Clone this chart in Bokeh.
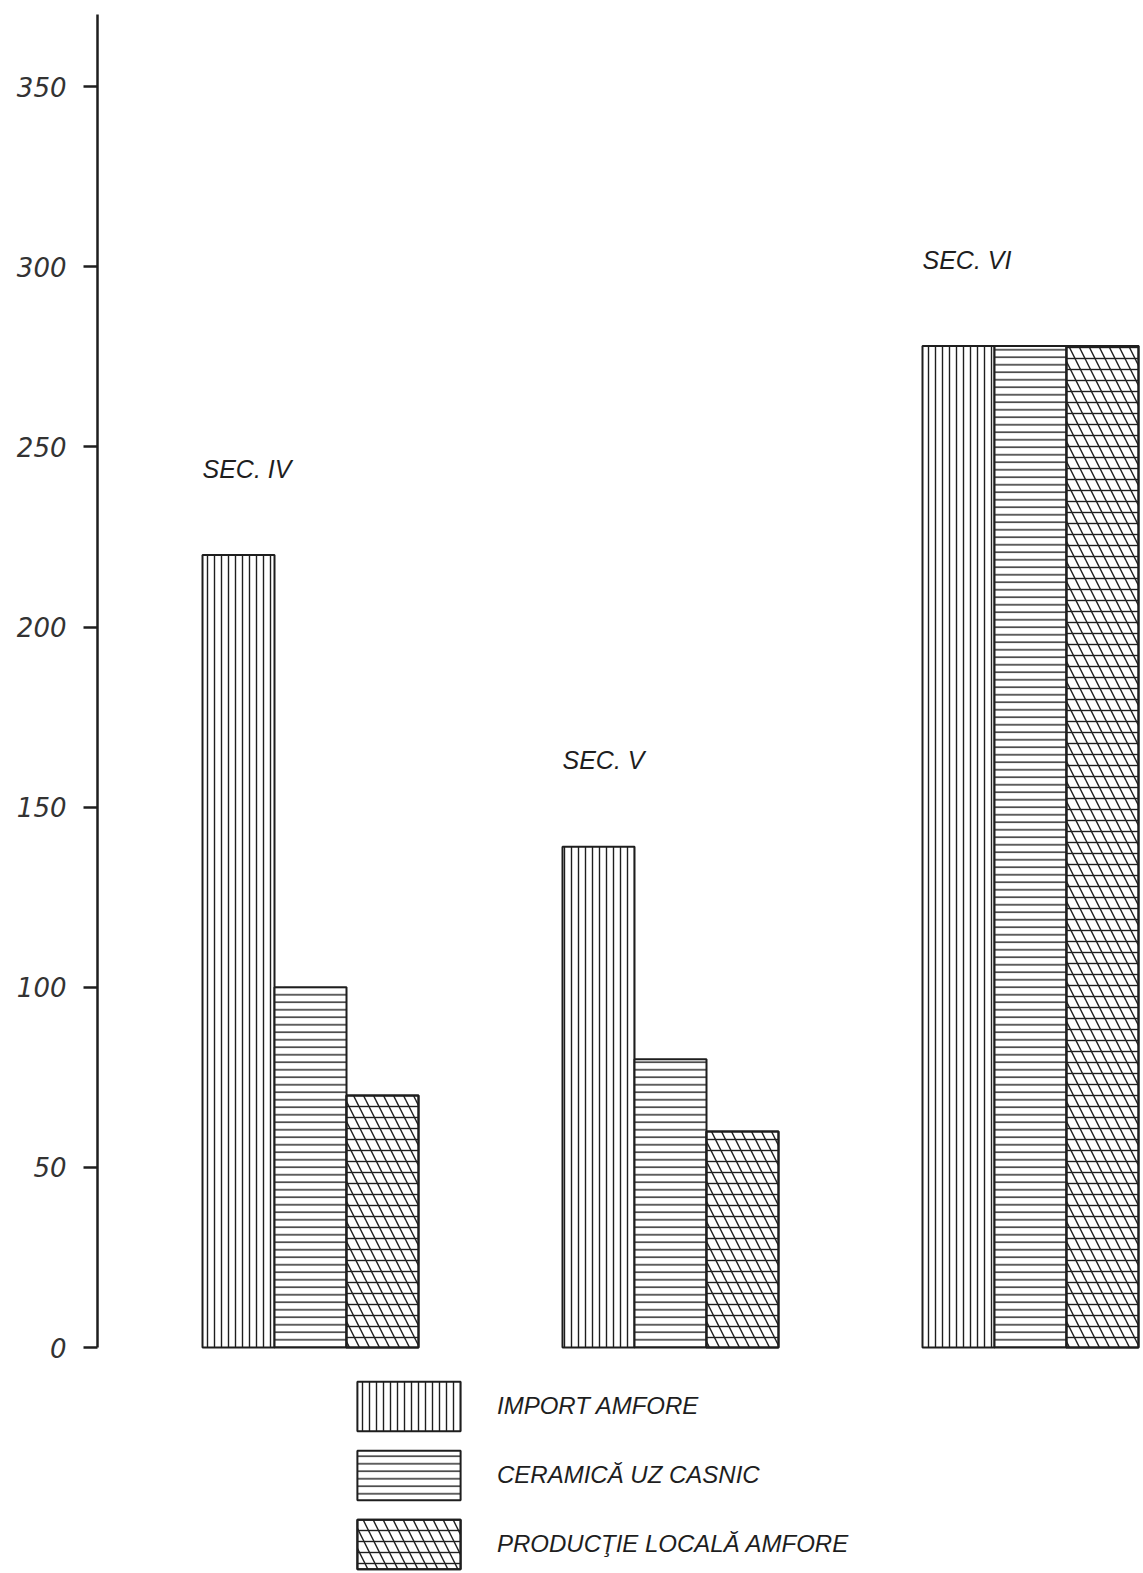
import numpy as np
from bokeh.plotting import figure
from bokeh.models import Range1d, LinearAxis, FixedTicker, Legend, LegendItem, ColumnDataSource
from bokeh.transform import dodge
from bokeh.core.properties import value
from bokeh.embed import file_html
from bokeh.resources import INLINE

# ---- data ----
groups = ["SEC. IV", "SEC. V", "SEC. VI"]
series = ["IMPORT AMFORE", "CERAMICĂ UZ CASNIC", "PRODUCŢIE LOCALĂ AMFORE"]
import_amfore = [220, 139, 278]
ceramica_uz_casnic = [100, 80, 278]
productie_locala_amfore = [70, 60, 278]
y_ticks = [0, 50, 100, 150, 200, 250, 300, 350]

INK = "#1e1e1e"
BAR_W = 0.2

p = figure(width=1143, height=1573, output_backend="svg", toolbar_location=None,
           x_range=Range1d(-0.5917, 2.3139), y_range=Range1d(-62.7, 373.9),
           x_axis_type=None, y_axis_type=None,
           min_border_left=97, min_border_right=0, min_border_top=0, min_border_bottom=0)
p.outline_line_color = None
p.background_fill_color = "white"

yaxis = LinearAxis(ticker=FixedTicker(ticks=y_ticks), bounds=(0, 370))
yaxis.axis_line_width = 2.5
yaxis.axis_line_color = INK
yaxis.major_tick_line_width = 2.5
yaxis.major_tick_line_color = INK
yaxis.major_tick_out = 14
yaxis.major_tick_in = 0
yaxis.minor_tick_out = 0
yaxis.minor_tick_in = 0
yaxis.major_label_text_font = "DejaVu Sans"
yaxis.major_label_text_font_style = "italic"
yaxis.major_label_text_font_size = "26px"
yaxis.major_label_text_color = "#333333"
yaxis.major_label_standoff = 17
p.add_layout(yaxis, "left")

label_y = [max(a, b, c) + 24 for a, b, c in zip(import_amfore, ceramica_uz_casnic, productie_locala_amfore)]
src = ColumnDataSource(dict(x=np.arange(len(groups)), group=groups, imp=import_amfore,
                            cer=ceramica_uz_casnic, prod=productie_locala_amfore, label_y=label_y))

common = dict(width=BAR_W, bottom=0, source=src, line_color=INK, line_width=2,
              hatch_color=INK, hatch_weight=1.4)

r_imp = p.vbar(x=dodge("x", -BAR_W, range=p.x_range), top="imp", fill_color="white",
               hatch_pattern="vertical_line", hatch_scale=7, **common)
r_cer = p.vbar(x=dodge("x", 0, range=p.x_range), top="cer", fill_color="white",
               hatch_pattern="horizontal_line", hatch_scale=7.5, **common)
r_prod_h = p.vbar(x=dodge("x", BAR_W, range=p.x_range), top="prod", fill_color="white",
                  hatch_pattern="horizontal_line", hatch_scale=11, **common)
r_prod_d = p.vbar(x=dodge("x", BAR_W, range=p.x_range), top="prod", fill_alpha=0,
                  hatch_pattern="left_diagonal_line", hatch_scale=20, **common)

p.text(x=dodge("x", -0.3, range=p.x_range), y="label_y", text="group", source=src,
       text_font=value("Liberation Sans"), text_font_style="italic", text_font_size="25px",
       text_color=INK, text_baseline="middle", text_align="left")

legend = Legend(items=[
    LegendItem(label=value(series[0]), renderers=[r_imp]),
    LegendItem(label=value(series[1]), renderers=[r_cer]),
    LegendItem(label=value(series[2]), renderers=[r_prod_h, r_prod_d]),
], location=(247, -2), orientation="vertical", glyph_width=129, glyph_height=62,
    spacing=7, label_standoff=24, padding=0, margin=0,
    border_line_alpha=0, background_fill_alpha=0,
    label_text_font="Liberation Sans", label_text_font_style="italic",
    label_text_font_size="24px", label_text_color=INK)
p.add_layout(legend)

open("out.html", "w").write(file_html(p, INLINE))
